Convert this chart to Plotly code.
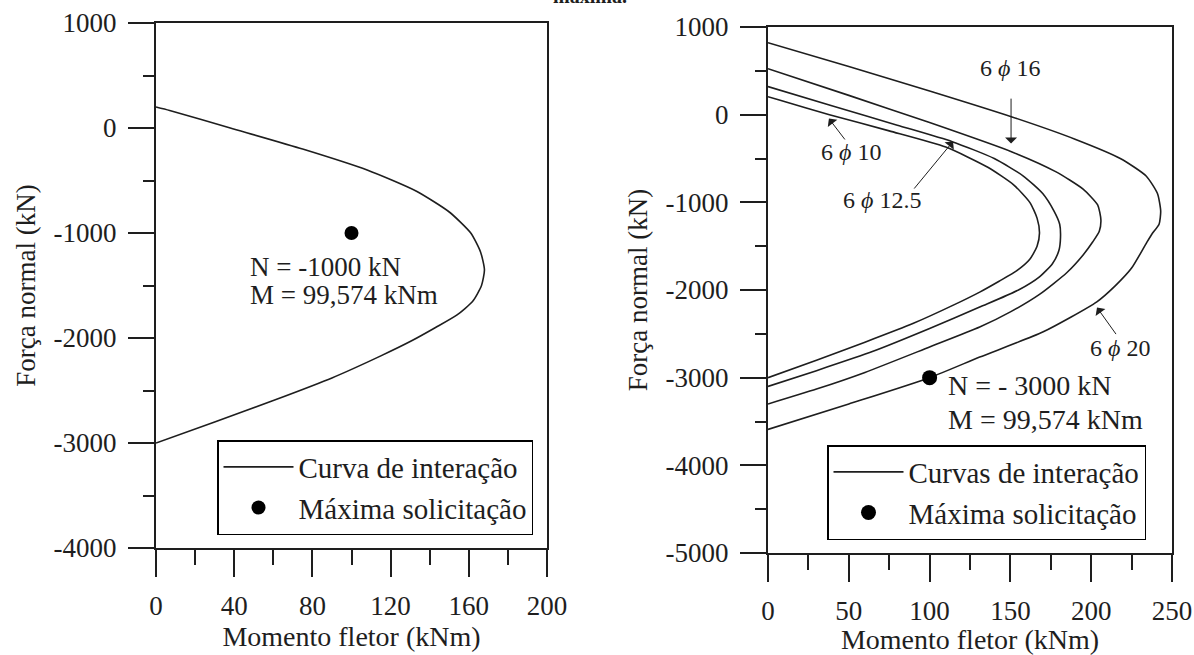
import plotly.graph_objects as go

# ---------------- data ----------------
# left chart: single interaction curve (M in kNm, N in kN)
left_M = [0, 7, 38, 75, 108, 133, 150, 161, 166, 168, 166.5, 162, 154, 143, 131, 115, 90, 60, 30, 0]
left_N = [200, 167, 0, -200, -400, -600, -800, -1000, -1180, -1350, -1500, -1650, -1780, -1900, -2024, -2170, -2380, -2595, -2800, -3000]
left_point_M = [100]
left_point_N = [-1000]

# right chart: four interaction curves
r10_M = [0, 7, 38, 75, 110, 136, 152, 162, 166.5, 168, 166.5, 162, 154, 143, 131, 115, 90, 60, 30, 0]
r10_N = [205, 167, 0, -185, -370, -600, -800, -1000, -1180, -1350, -1500, -1650, -1780, -1900, -2024, -2170, -2380, -2595, -2800, -3000]
r125_M = [0, 40, 80, 114, 140, 158, 170, 177, 180.5, 181, 180, 176, 168, 155, 131, 100, 65, 30, 0]
r125_N = [320, 100, -120, -308, -500, -700, -900, -1100, -1250, -1400, -1550, -1700, -1850, -2000, -2195, -2440, -2700, -2920, -3100]
r16_M = [0, 50, 100, 151, 178, 195, 204, 206, 205, 201, 195, 185, 168, 150, 131, 100, 60, 30, 0]
r16_N = [525, 220, -90, -425, -650, -850, -1030, -1200, -1330, -1450, -1600, -1800, -2050, -2250, -2423, -2650, -2940, -3130, -3300]
r20_M = [0, 50, 100, 151, 190, 218, 234, 241, 243, 242, 238, 234, 225, 215, 203.5, 170, 131, 100, 50, 0]
r20_N = [820, 550, 270, -26, -280, -500, -700, -900, -1100, -1250, -1350, -1470, -1750, -1950, -2135, -2480, -2765, -3000, -3300, -3590]
right_point_M = [100]
right_point_N = [-3000]

# ticks
left_xticks = [0, 40, 80, 120, 160, 200]
left_yticks = [1000, 0, -1000, -2000, -3000, -4000]
left_yticktext = ["1000", "0", "-1000", "-2000", "-3000", "-4000"]
right_xticks = [0, 50, 100, 150, 200, 250]
right_yticks = [1000, 0, -1000, -2000, -3000, -4000, -5000]
right_yticktext = ["1000", "0", "-1000", "-2000", "-3000", "-4000", "-5000"]

# curve labels: (text, text M, text N, arrow start M, arrow start N, arrow tip M, arrow tip N)
curve_labels = [
    ("6 <i>ϕ</i> 16", 150, 530, 150.4, 200, 150.4, -330),
    ("6 <i>ϕ</i> 10", 51.5, -425, 48.3, -300, 37.7, -45),
    ("6 <i>ϕ</i> 12.5", 70.5, -970, 89.7, -860, 114.5, -305),
    ("6 <i>ϕ</i> 20", 218, -2660, 216, -2520, 203.6, -2200),
]

# ---------------- figure ----------------
W, H = 1194, 655
FONT = "Times New Roman, Liberation Serif, DejaVu Serif, serif"
INK = "#1e1e1e"

fig = go.Figure()

fig.add_trace(go.Scatter(x=left_M, y=left_N, mode="lines", name="Curva de interação",
                         line=dict(color=INK, width=1.6, shape="spline", smoothing=0.6),
                         xaxis="x", yaxis="y", legend="legend"))
fig.add_trace(go.Scatter(x=left_point_M, y=left_point_N, mode="markers", name="Máxima solicitação",
                         marker=dict(color="black", size=14), xaxis="x", yaxis="y", legend="legend"))

for i, (mm, nn) in enumerate([(r10_M, r10_N), (r125_M, r125_N), (r16_M, r16_N), (r20_M, r20_N)]):
    fig.add_trace(go.Scatter(x=mm, y=nn, mode="lines", name="Curvas de interação",
                             line=dict(color=INK, width=1.6, shape="spline", smoothing=0.6),
                             showlegend=(i == 0), legendgroup="curves",
                             xaxis="x2", yaxis="y2", legend="legend2"))
fig.add_trace(go.Scatter(x=right_point_M, y=right_point_N, mode="markers", name="Máxima solicitação",
                         marker=dict(color="black", size=15), xaxis="x2", yaxis="y2", legend="legend2"))


def xaxis_style(domain, rng, ticks, minor_dtick, anchor):
    return dict(domain=domain, range=rng, tickmode="array", tickvals=ticks,
                ticktext=[str(t) for t in ticks], anchor=anchor, automargin=False,
                ticks="outside", ticklen=27, tickwidth=2, tickcolor=INK,
                ticklabelstandoff=6,
                minor=dict(dtick=minor_dtick, tick0=0, ticks="outside", ticklen=15, tickwidth=2,
                           tickcolor=INK, showgrid=False),
                showline=True, linecolor=INK, linewidth=2, mirror=True,
                showgrid=False, zeroline=False,
                tickfont=dict(family=FONT, size=27, color=INK),
                title=dict(text="Momento fletor (kNm)", font=dict(family=FONT, size=28, color=INK), standoff=6))


def yaxis_style(domain, rng, ticks, ticktext, anchor):
    return dict(domain=domain, range=rng, tickmode="array", tickvals=ticks, ticktext=ticktext,
                anchor=anchor, automargin=False,
                ticks="outside", ticklen=26, tickwidth=2, tickcolor=INK,
                ticklabelstandoff=6,
                minor=dict(dtick=500, tick0=0, ticks="outside", ticklen=11, tickwidth=2,
                           tickcolor=INK, showgrid=False),
                showline=True, linecolor=INK, linewidth=2, mirror=True,
                showgrid=False, zeroline=False,
                tickfont=dict(family=FONT, size=27, color=INK),
                title=dict(text="Força normal (kN)", font=dict(family=FONT, size=27, color=INK), standoff=10))


legend_common = dict(xanchor="left", yanchor="top", bordercolor="black", borderwidth=1.5,
                     bgcolor="white", font=dict(family=FONT, size=29, color=INK),
                     itemwidth=70, tracegroupgap=0)

fig.update_layout(
    template="none",
    width=W, height=H, margin=dict(l=0, r=0, t=0, b=0, autoexpand=False),
    paper_bgcolor="white", plot_bgcolor="white",
    font=dict(family=FONT, color=INK),
    xaxis=xaxis_style([156 / W, 547 / W], [0, 200], left_xticks, 20, "y"),
    yaxis=yaxis_style([1 - 548 / H, 1 - 23 / H], [-4000, 1000], left_yticks, left_yticktext, "x"),
    xaxis2=xaxis_style([768 / W, 1172 / W], [0, 250], right_xticks, 25, "y2"),
    yaxis2=yaxis_style([1 - 553 / H, 1 - 27 / H], [-5000, 1000], right_yticks, right_yticktext, "x2"),
    legend=dict(legend_common, x=217 / W, y=1 - 440 / H),
    legend2=dict(legend_common, x=827 / W, y=1 - 445 / H),
    showlegend=True,
)

# value annotations
fig.add_annotation(x=47, y=-1324, xref="x", yref="y", text="N = -1000 kN", showarrow=False,
                   xanchor="left", yanchor="middle", font=dict(family=FONT, size=27, color=INK))
fig.add_annotation(x=47, y=-1590, xref="x", yref="y", text="M = 99,574 kNm", showarrow=False,
                   xanchor="left", yanchor="middle", font=dict(family=FONT, size=27, color=INK))
fig.add_annotation(x=110, y=-3094, xref="x2", yref="y2", text="N = - 3000 kN", showarrow=False,
                   xanchor="left", yanchor="middle", font=dict(family=FONT, size=28, color=INK))
fig.add_annotation(x=110, y=-3482, xref="x2", yref="y2", text="M = 99,574 kNm", showarrow=False,
                   xanchor="left", yanchor="middle", font=dict(family=FONT, size=28, color=INK))

# curve labels with arrows
for txt, tx, ty, ax0, ay0, x1, y1 in curve_labels:
    fig.add_annotation(x=tx, y=ty, xref="x2", yref="y2", text=txt, showarrow=False,
                       font=dict(family=FONT, size=24, color=INK))
    fig.add_annotation(x=x1, y=y1, ax=ax0, ay=ay0, xref="x2", yref="y2", axref="x2", ayref="y2",
                       text="", showarrow=True, arrowhead=1, arrowsize=2, arrowwidth=1, arrowcolor=INK)

# cut-off caption fragment at the top edge
fig.add_annotation(x=590 / W, y=1 + 4 / H, xref="paper", yref="paper", text="<b>máxima.</b>",
                   showarrow=False, xanchor="center", yanchor="middle",
                   font=dict(family=FONT, size=20, color=INK))

fig.write_html("out.html", config={"displayModeBar": False},
               post_script="document.body.style.margin='0';")
